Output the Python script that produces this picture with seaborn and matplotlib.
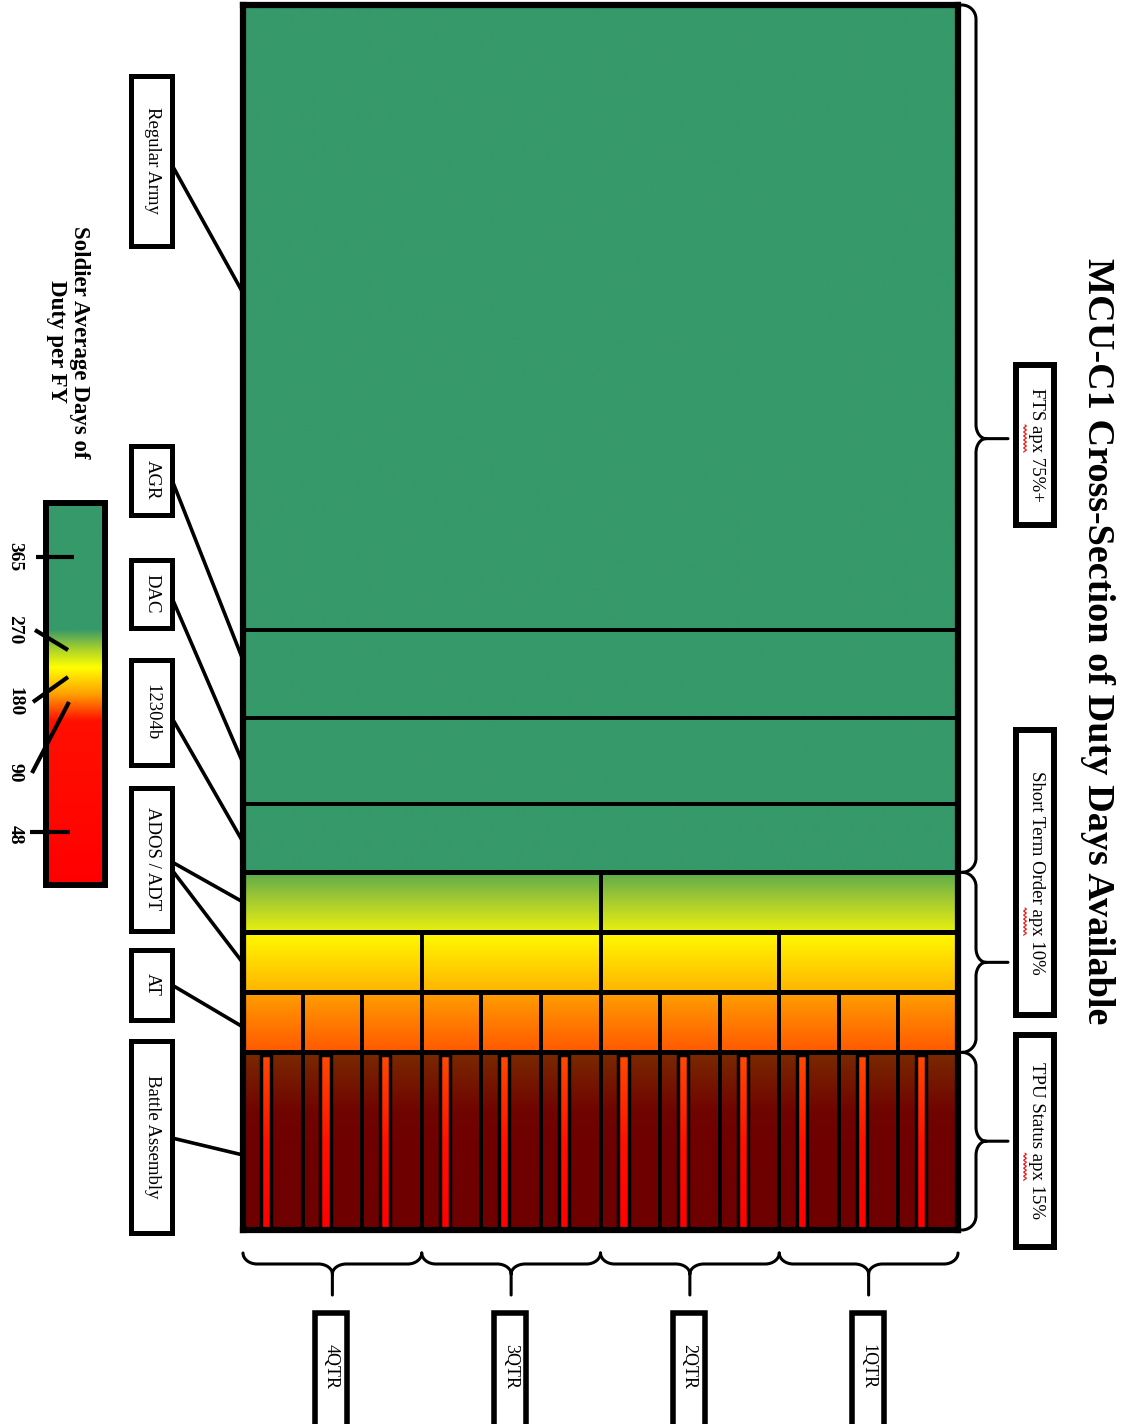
import numpy as np
import matplotlib
matplotlib.use("Agg")
import matplotlib.pyplot as plt
from matplotlib.patches import Rectangle, PathPatch
from matplotlib.path import Path
from matplotlib.colors import LinearSegmentedColormap
from matplotlib.font_manager import FontProperties
import seaborn as sns

# ---------------- data ----------------
rows = ['Regular Army', 'AGR', 'DAC', '12304b', 'ADOS / ADT', 'ADOS / ADT', 'AT', 'Battle Assembly']
row_share = [51.0, 7.2, 7.0, 5.6, 4.9, 4.9, 4.9, 14.5]          # % of force
row_orders = [1, 1, 1, 1, 2, 4, 12, 12]                          # duty periods per FY
row_group = ['FTS', 'FTS', 'FTS', 'FTS', 'STO', 'STO', 'STO', 'TPU']
months = 12
quarters = ['4QTR', '3QTR', '2QTR', '1QTR']
groups = ['FTS', 'STO', 'TPU']
group_labels = ['FTS apx 75%+', 'Short Term Order apx 10%', 'TPU Status apx 15%']
label_names = ['Regular Army', 'AGR', 'DAC', '12304b', 'ADOS / ADT', 'AT', 'Battle Assembly']
cbar_ticks = [365, 270, 180, 90, 48]
title = 'MCU-C1 Cross-Section of Duty Days Available'
cbar_title = 'Soldier Average Days of\nDuty per FY'

# ---------------- style ----------------
W, H = 1125, 1424
GREEN = '#36996a'
row_grad = [[GREEN, GREEN]] * 4 + [
    ['#58aa4c', '#a8cc30', '#e8f00e'],
    ['#fffc00', '#ffd800', '#ffb400'],
    ['#ffa000', '#ff7c00', '#ff5800'],
    ['#7a2a00', '#700400', '#6e0000', '#6e0000'],
]
stripe_grad = ['#ff4a00', '#ff1000', '#ff0000']

sns.set_theme(style='white')
plt.rcParams['font.family'] = ['Liberation Serif', 'DejaVu Serif']
plt.rcParams['text.color'] = 'black'

fig = plt.figure(figsize=(W / 100, H / 100), dpi=100)
fig.patch.set_facecolor('white')

ov = fig.add_axes([0, 0, 1, 1], zorder=0)
ov.set_xlim(0, W)
ov.set_ylim(H, 0)
ov.set_autoscale_on(False)
ov.axis('off')
ov.patch.set_alpha(0)

L, R, T, B = 243, 958, 5, 1230
ax = fig.add_axes([L / W, 1 - B / H, (R - L) / W, (B - T) / H], zorder=1)
ax.set_xlim(0, months)
ax.set_ylim(100, 0)
ax.set_autoscale_on(False)
ax.set_xticks([])
ax.set_yticks([])
for s in ax.spines.values():
    s.set_visible(True)
    s.set_linewidth(4.5)
    s.set_color('black')
    s.set_zorder(5)

grad = np.linspace(0, 1, 256).reshape(-1, 1)
edges = np.concatenate([[0], np.cumsum(row_share)])
edges = edges / edges[-1] * 100

for r, name in enumerate(rows):
    y0, y1 = edges[r], edges[r + 1]
    n = row_orders[r]
    w = months / n
    cmap = sns.blend_palette(row_grad[r], n_colors=256, as_cmap=True)
    for j in range(n):
        x0 = j * w
        ax.imshow(grad, cmap=cmap, extent=(x0, x0 + w, y1, y0), aspect='auto',
                  interpolation='bilinear', origin='upper', zorder=0)
        ax.add_patch(Rectangle((x0, y0), w, y1 - y0, fill=False, ec='black',
                               lw=2.6, zorder=1))
        if name == 'Battle Assembly':
            sx0, sw = x0 + 0.30 * w, 0.17 * w
            sy0 = y0 + 0.25
            scm = sns.blend_palette(stripe_grad, n_colors=256, as_cmap=True)
            ax.imshow(grad, cmap=scm, extent=(sx0, sx0 + sw, y1, sy0), aspect='auto',
                      interpolation='bilinear', origin='upper', zorder=2)
            ax.add_patch(Rectangle((sx0, sy0), sw, y1 - sy0, fill=False, ec='black',
                                   lw=2.5, zorder=3))
# thicker lines between groups and short-term rows
for r in range(1, len(rows)):
    if row_group[r] != row_group[r - 1] or row_group[r] == 'STO':
        ax.axhline(edges[r], color='black', lw=3.6, zorder=4)
ax.set_xlim(0, months)
ax.set_ylim(100, 0)


def to_ov(x, y):
    disp = ax.transData.transform((x, y))
    return ov.transData.inverted().transform(disp)


def brace(a, b, t_line, t_cusp, t_tip, r, mapf, lw=2.2):
    m = (a + b) / 2
    pts = [(a, 0), (a, 0.55 * t_line), (a + 0.45 * r, t_line), (a + r, t_line),
           (m - r, t_line),
           (m - 0.45 * r, t_line), (m, t_cusp - 0.55 * (t_cusp - t_line)), (m, t_cusp),
           (m, t_tip),
           (m, t_cusp),
           (m, t_cusp - 0.55 * (t_cusp - t_line)), (m + 0.45 * r, t_line), (m + r, t_line),
           (b - r, t_line),
           (b - 0.45 * r, t_line), (b, 0.55 * t_line), (b, 0)]
    codes = [Path.MOVETO, Path.CURVE4, Path.CURVE4, Path.CURVE4,
             Path.LINETO,
             Path.CURVE4, Path.CURVE4, Path.CURVE4,
             Path.LINETO,
             Path.MOVETO,
             Path.CURVE4, Path.CURVE4, Path.CURVE4,
             Path.LINETO,
             Path.CURVE4, Path.CURVE4, Path.CURVE4]
    verts = [mapf(s, t) for s, t in pts]
    ov.add_patch(PathPatch(Path(verts, codes), fill=False, ec='black', lw=lw,
                           capstyle='round', joinstyle='round', zorder=3))
    return mapf(m, t_tip)


# right braces (groups)
renderer = fig.canvas.get_renderer()
right_boxes = [(362, 528), (727, 1018), (1032, 1250)]
for gi, g in enumerate(groups):
    idx = [i for i, rg in enumerate(row_group) if rg == g]
    ya = to_ov(0, edges[idx[0]])[1]
    yb = to_ov(0, edges[idx[-1] + 1])[1]
    brace(ya, yb, 14, 24, 46, 14, lambda s, t: (962 + t, s))
    by0, by1 = right_boxes[gi]
    ov.add_patch(Rectangle((1016, by0 + 3), 38, by1 - by0 - 6, fc='white', ec='black',
                           lw=4.3, zorder=3))
    yc = (by0 + by1) / 2
    label = group_labels[gi]
    ov.text(1036, yc, label, rotation=-90, ha='center', va='center', fontsize=13.5,
            zorder=4)
    # spell-check squiggle under "apx"
    prop = FontProperties(family=['Liberation Serif'], size=13.5)
    wf = renderer.get_text_width_height_descent(label, prop, ismath=False)[0]
    pre = label.split('apx')[0]
    wp = renderer.get_text_width_height_descent(pre, prop, ismath=False)[0]
    wa = renderer.get_text_width_height_descent(pre + 'apx', prop, ismath=False)[0]
    ys = np.linspace(yc - wf / 2 + wp, yc - wf / 2 + wa, 40)
    xs = 1025 + 1.3 * np.sin(2 * np.pi * (ys - ys[0]) / 4.0)
    ov.plot(xs, ys, color='#e02020', lw=0.9, zorder=5)

# bottom braces (quarters)
q_edges = np.linspace(0, months, len(quarters) + 1)
for qi, q in enumerate(quarters):
    xa = to_ov(q_edges[qi], 100)[0]
    xb = to_ov(q_edges[qi + 1], 100)[0]
    tip = brace(xa, xb, 11, 21, 42, 14, lambda s, t: (s, 1253 + t))
    xc = tip[0]
    ov.add_patch(Rectangle((xc - 17, 1313), 32, 160, fc='white', ec='black', lw=4.0,
                           zorder=3))
    ov.text(xc - 1, 1367, q, rotation=-90, ha='center', va='center', fontsize=13, zorder=4)

# left label boxes and leader lines
left_boxes = [(73, 248), (443, 517), (557, 630), (657, 767), (785, 933), (947, 1022), (1038, 1235)]
leaders = [[(165, 293)], [(480, 660)], [(598, 763)], [(718, 842)],
           [(862, 902), (870, 963)], [(985, 1027)], [(1138, 1155)]]
for i, name in enumerate(label_names):
    y0, y1 = left_boxes[i]
    ov.add_patch(Rectangle((130.5, y0 + 2.5), 41, y1 - y0 - 5, fc='white', ec='black',
                           lw=3.6, zorder=3))
    ov.text(152, (y0 + y1) / 2, name, rotation=-90, ha='center', va='center',
            fontsize=13.5, zorder=4)
    for ya, yb in leaders[i]:
        ov.plot([172, 243], [ya, yb], color='black', lw=2.6, zorder=2,
                solid_capstyle='butt')

# title
ov.text(1098, 641, title, rotation=-90, ha='center', va='center', fontsize=27.5,
        fontweight='bold', zorder=4)

# colour scale
cb_cmap = LinearSegmentedColormap.from_list(
    'duty', [(0, GREEN), (0.33, GREEN), (0.385, '#b0d428'), (0.43, '#ffff00'),
             (0.50, '#ffa000'), (0.57, '#ff1000'), (1, '#ff0000')])
ov.imshow(grad, cmap=cb_cmap, extent=(46, 105, 885, 503), aspect='auto',
          interpolation='bilinear', origin='upper', zorder=1)
ov.add_patch(Rectangle((46, 503), 59, 382, fill=False, ec='black', lw=4.3, zorder=2))
cbar_label_y = [557, 630, 702, 773, 835]
cbar_tick_lines = [((36, 557), (74, 557)), ((35, 630), (68, 650)), ((33, 702), (68, 677)),
                   ((32, 773), (69, 702)), ((30, 832), (70, 832))]
for v, ly, (p0, p1) in zip(cbar_ticks, cbar_label_y, cbar_tick_lines):
    ov.text(15, ly, str(v), rotation=-90, ha='center', va='center', fontsize=14,
            fontweight='bold', zorder=4)
    ov.plot([p0[0], p1[0]], [p0[1], p1[1]], color='black', lw=3, zorder=3,
            solid_capstyle='butt')
ov.text(68, 342, cbar_title, rotation=-90, ha='center', va='center',
        multialignment='center', fontsize=16.5, fontweight='bold', linespacing=1.15,
        zorder=4)

ov.set_xlim(0, W)
ov.set_ylim(H, 0)

fig.savefig('out.png', dpi=100, facecolor='white')
